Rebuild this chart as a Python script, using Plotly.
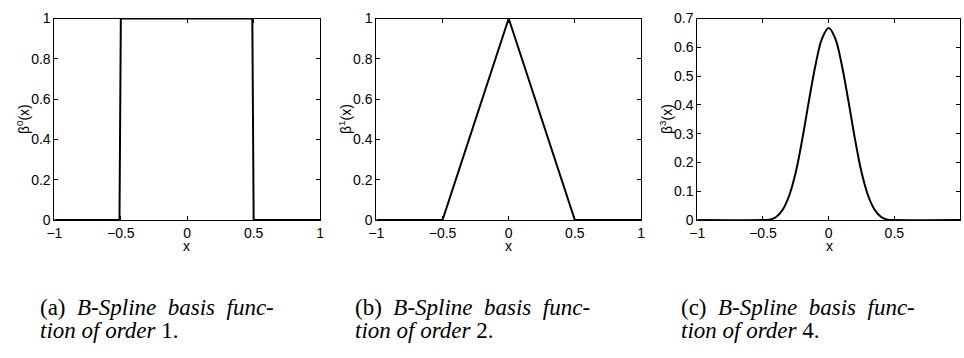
import plotly.graph_objects as go

W, H = 964, 358

# ---- data ----
x_order1 = [-1.0, -0.51, -0.50, 0.49, 0.50, 1.0]
y_order1 = [0.0, 0.0, 1.0, 1.0, 0.0, 0.0]

x_order2 = [-1.0, -0.5, 0.0, 0.5, 1.0]
y_order2 = [0.0, 0.0, 1.0, 0.0, 0.0]

x_order4 = [-1.0, -0.5, -0.45, -0.4, -0.35, -0.3, -0.25, -0.2, -0.15, -0.1, -0.05,
            0.0, 0.05, 0.1, 0.15, 0.2, 0.25, 0.3, 0.35, 0.4, 0.45, 0.5, 1.0]
y_order4 = [0.0, 0.0, 0.0013, 0.0107, 0.036, 0.0853, 0.1667, 0.2827, 0.4147, 0.5387, 0.6307,
            0.6667, 0.6307, 0.5387, 0.4147, 0.2827, 0.1667, 0.0853, 0.036, 0.0107, 0.0013, 0.0, 0.0]

x_ticks = [-1, -0.5, 0, 0.5, 1]
x_ticklabels = ["\u22121", "\u22120.5", "0", "0.5", "1"]
y_ticks_a = [0, 0.2, 0.4, 0.6, 0.8, 1]
y_ticklabels_a = ["0", "0.2", "0.4", "0.6", "0.8", "1"]
y_ticks_c = [0, 0.1, 0.2, 0.3, 0.4, 0.5, 0.6, 0.7]
y_ticklabels_c = ["0", "0.1", "0.2", "0.3", "0.4", "0.5", "0.6", "0.7"]

y_titles = ["\u03b2<sup>0</sup>(x)", "\u03b2<sup>1</sup>(x)", "\u03b2<sup>3</sup>(x)"]
sp = "\u00a0\u00a0"
captions_l1 = ["(a)" + sp + "<i>B-Spline" + sp + "basis" + sp + "func-</i>",
               "(b)" + sp + "<i>B-Spline" + sp + "basis" + sp + "func-</i>",
               "(c)" + sp + "<i>B-Spline" + sp + "basis" + sp + "func-</i>"]
captions_l2 = ["<i>tion of order</i> 1.", "<i>tion of order</i> 2.", "<i>tion of order</i> 4."]

# ---- layout geometry (pixels) ----
lefts = [47, 373, 698]
rights = [316, 641, 964]
top_px, bot_px = 11, 222
cap_x = [30, 349, 679]

def px(x):
    return x / W

def py(y):
    return 1 - y / H

fig = go.Figure()
series = [(x_order1, y_order1, "linear"), (x_order2, y_order2, "linear"), (x_order4, y_order4, "spline")]
for i, (xs, ys, shape) in enumerate(series):
    n = "" if i == 0 else str(i + 1)
    fig.add_trace(go.Scatter(x=xs, y=ys, mode="lines", xaxis="x" + n, yaxis="y" + n,
                             line=dict(color="black", width=2, shape=shape), showlegend=False,
                             hoverinfo="skip"))

font_ax = dict(family="Liberation Sans, Arial, sans-serif", size=14, color="black")
font_cap = dict(family="Liberation Serif, Times New Roman, serif", size=23, color="black")
for i in range(3):
    n = "" if i == 0 else str(i + 1)
    yt, ytl, yr = (y_ticks_c, y_ticklabels_c, [0, 0.7]) if i == 2 else (y_ticks_a, y_ticklabels_a, [0, 1])
    fig.layout["xaxis" + n] = dict(domain=[px(lefts[i]), min(1, px(rights[i]))], range=[-1, 1],
                                   anchor="y" + n, tickvals=x_ticks, ticktext=x_ticklabels,
                                   ticks="inside", ticklen=4, tickcolor="black", showline=True,
                                   linecolor="black", linewidth=1, mirror="ticks", showgrid=False,
                                   zeroline=False, tickfont=font_ax, fixedrange=True)
    fig.layout["yaxis" + n] = dict(domain=[py(bot_px), py(top_px)], range=yr,
                                   anchor="x" + n, tickvals=yt, ticktext=ytl,
                                   ticks="inside", ticklen=4, tickcolor="black", showline=True,
                                   linecolor="black", linewidth=1, mirror="ticks", showgrid=False,
                                   zeroline=False, tickfont=font_ax, fixedrange=True)
    # axis titles
    fig.add_annotation(x=px(lefts[i] - 31), y=py((top_px + bot_px) / 2), xref="paper", yref="paper",
                       text=y_titles[i], textangle=-90, showarrow=False, font=font_ax,
                       xanchor="center", yanchor="middle")
    fig.add_annotation(x=px((lefts[i] + lefts[i] + 268) / 2), y=py(249), xref="paper", yref="paper",
                       text="x", showarrow=False, font=font_ax, xanchor="center", yanchor="middle")
    # captions
    fig.add_annotation(x=px(cap_x[i]), y=py(314), xref="paper", yref="paper", text=captions_l1[i],
                       showarrow=False, font=font_cap, xanchor="left", yanchor="middle")
    fig.add_annotation(x=px(cap_x[i]), y=py(338), xref="paper", yref="paper", text=captions_l2[i],
                       showarrow=False, font=font_cap, xanchor="left", yanchor="middle")

fig.update_layout(width=W, height=H, margin=dict(l=0, r=0, t=0, b=0),
                  paper_bgcolor="white", plot_bgcolor="white")

fig.write_html("out.html", config={"displayModeBar": False})
